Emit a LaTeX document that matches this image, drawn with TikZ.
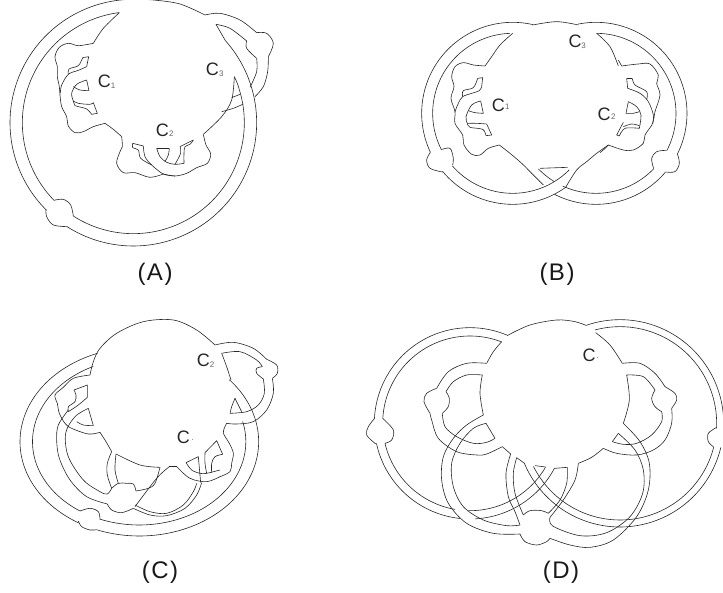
\documentclass[tikz,border=0pt]{standalone}
\usepackage{fontspec}
\setmainfont{Liberation Sans}
\tikzset{
  ln/.style={line width=0.6pt,draw=black!85,line join=round},
  zoomed/.style={x=0.33333pt,y=-0.33333pt},
  lab/.style={inner sep=0pt,text=black!85,font=\fontsize{18}{18}\selectfont},
  sublab/.style={inner sep=0pt,text=black!60,font=\fontsize{8}{8}\selectfont},
  caplab/.style={inner sep=0pt,text=black!90,font=\fontsize{24}{24}\selectfont}
}
\newcommand\cv[1]{\draw[ln] plot[smooth,tension=.55] coordinates {#1};}
\newcommand\ea[6]{\draw[ln] plot[domain=#5:#6,samples=70,smooth] ({#1+#3*cos(\x)},{#2+#4*sin(\x)});}
\begin{document}
\begin{tikzpicture}
\useasboundingbox (0,0) rectangle (723pt,-593pt);
\clip (0,0) rectangle (723pt,-593pt);
%%% A
\begin{scope}[shift={(0pt,0pt)},zoomed]
\ea{400}{368}{333}{333}{262.7}{135.6}
\cv{(162,601)(190,598)(212,615)(220,648)}
\ea{400}{368}{333}{333}{122.7}{-18}
\cv{(717,265)(710,245)(703,230)}
\ea{400}{368}{370}{370}{270}{134.7}
\cv{(138,628)(140,650)(160,675)(203,680)}
\ea{400}{368}{370}{370}{122.4}{-42}
\draw[ln] (675,120)--(648,73);
\cv{(615,45)(540,12)(460,0)(400,-2)}
\cv{(615,45)(660,40)(720,60)(770,98)}
\cv{(770,98)(800,100)(820,130)(805,170)}
\cv{(805,170)(803,215)(790,260)(765,290)}
\cv{(648,73)(690,85)(740,123)}
\cv{(740,123)(740,145)(770,175)}
\cv{(770,175)(770,215)(750,262)}
\cv{(720,283)(695,293)}
\cv{(730,312)(700,325)(665,335)}
\cv{(703,230)(695,300)(665,350)(610,403)}
\cv{(610,403)(618,435)(632,462)(622,490)(590,503)(560,520)(525,528)(490,522)}
\cv{(490,522)(450,532)(405,518)(370,518)(350,490)(360,455)(367,440)(365,410)}
\cv{(365,410)(340,388)(315,370)}
\cv{(315,370)(280,380)(250,395)(225,398)(205,378)(200,350)(185,320)(180,285)(178,260)(172,230)(172,200)(165,170)(178,142)(205,130)(235,137)(280,130)}
\cv{(280,130)(310,85)(358,38)}
% C2 details
\cv{(398,430)(430,438)}
\cv{(398,430)(398,443)(415,450)(422,475)(455,495)}
\cv{(430,438)(435,470)(455,495)(490,522)(525,528)}
\draw[ln] (470,445)--(508,445);
\cv{(508,445)(505,465)(495,485)}
\cv{(470,445)(480,470)(500,487)(525,493)(552,490)}
\cv{(525,493)(542,460)(540,440)}
\draw[ln] (540,440)--(580,420);
\cv{(580,420)(570,433)(555,440)(552,460)(552,490)}
\node[lab] (a2) at (487,390) {C};
\node[sublab] (a2s) at (514,402) {2};
\node[lab] (a1) at (313,245) {C};
\node[sublab] (a1s) at (339,258) {1};
\node[lab] (a3) at (637,208) {C};
\node[sublab] (a3s) at (664,220) {3};
\node[caplab] (acap) at (465,822) {(\kern1.5pt A\kern1.5pt)};
\end{scope}
\begin{scope}[shift={(45pt,-35pt)},zoomed]
\cv{(46,175)(50,150)(70,118)(100,106)(125,95)}
\cv{(125,95)(131,65)}
\draw[ln] (131,65)--(113,68);
\cv{(113,68)(100,92)(72,102)(70,118)}
\cv{(125,135)(95,148)(80,175)(85,198)}
\draw[ln] (125,135)--(132,167);
\cv{(132,167)(105,165)(85,155)}
\cv{(85,198)(100,205)(135,208)(145,203)}
\draw[ln] (145,203)--(157,235)--(140,238);
\cv{(140,238)(125,222)(100,215)(90,212)(85,198)}
\end{scope}
%%% B
\begin{scope}[shift={(400pt,-10pt)},zoomed]
\ea{338}{310}{240}{240}{268}{153}
\cv{(124,419)(150,415)(160,445)(158,465)}
\ea{338}{310}{240}{240}{139}{45}
\draw[ln] (420,475)--(503,472);
\ea{338}{310}{273}{273}{283}{154.7}
\cv{(91,427)(80,450)(90,475)(127,486)}
\ea{338}{310}{273}{273}{140.6}{54.4}
\ea{588}{310}{240}{240}{121.4}{136}
\ea{588}{310}{240}{240}{114.6}{43.8}
\cv{(761,476)(755,445)(770,425)(800,421)}
\ea{588}{310}{240}{240}{27.6}{-89.5}
\cv{(398,45)(470,35)(535,45)}
\ea{588}{310}{273}{273}{258.7}{386.4}
\cv{(832,431)(838,460)(825,485)(797,486)}
\ea{588}{310}{273}{273}{40.3}{117.2}
\cv{(338,70)(300,105)(275,140)(255,168)}
\cv{(255,168)(220,165)(190,158)(165,170)(155,200)(162,230)(153,265)(165,305)(165,340)(188,375)(192,405)(215,433)(240,435)(265,415)(298,405)}
\cv{(298,405)(330,430)(365,460)(395,490)(430,525)}
\cv{(590,70)(630,110)(655,168)}
\cv{(625,405)(590,430)(560,455)(530,480)(497,532)}
\node[lab] (b1) at (295,285) {C};
\node[sublab] (b1s) at (322,291) {1};
\node[lab] (b2) at (612,313) {C};
\node[sublab] (b2s) at (640,320) {2};
\node[lab] (b3) at (525,95) {C};
\node[sublab] (b3s) at (551,108) {3};
\node[caplab] (bcap) at (471,792) {(\kern1.5pt B\kern1.5pt)};
\end{scope}
\begin{scope}[shift={(440pt,-60pt)},zoomed]
\cv{(45,155)(55,130)(68,110)(95,100)(118,92)(125,80)}
\draw[ln] (125,80)--(128,53)--(113,55);
\cv{(113,55)(100,83)(70,92)(68,110)}
\draw[ln] (122,123)--(130,160);
\cv{(130,160)(105,158)(85,152)}
\cv{(122,123)(95,135)(78,170)(82,190)}
\cv{(82,190)(110,190)(140,192)}
\draw[ln] (140,192)--(155,225)--(138,227);
\cv{(138,227)(128,208)(90,202)(82,190)}
\end{scope}
\begin{scope}[shift={(600pt,-60pt)},zoomed]
\cv{(55,0)(65,18)}
\cv{(65,18)(115,12)(150,12)(175,45)(170,70)(180,105)(165,155)(158,190)(135,225)(130,250)(100,270)(70,270)(25,255)}
\cv{(25,255)(12,268)(0,278)}
\draw[ln] (80,55)--(97,55);
\cv{(97,55)(105,75)(140,95)(140,118)}
\cv{(80,55)(83,85)}
\cv{(83,85)(120,100)(145,125)(160,165)(158,190)}
\draw[ln] (85,125)--(78,160);
\cv{(78,160)(100,160)(118,155)}
\cv{(85,125)(110,140)(123,165)(118,205)}
\draw[ln] (70,187)--(50,225)--(58,228);
\cv{(58,228)(75,205)(118,205)}
\cv{(70,200)(95,192)(118,197)}
\end{scope}
%%% C
\begin{scope}[shift={(0pt,-310pt)},zoomed]
\cv{(270,195)(280,155)(300,115)(350,70)(430,35)(520,30)(590,60)(645,105)}
\cv{(645,105)(700,97)(760,115)(800,148)}
\cv{(800,148)(830,165)(832,190)(817,205)}
\cv{(817,205)(820,250)(800,300)(760,335)(710,342)(680,340)}
\cv{(665,130)(720,125)(770,150)(787,170)}
\cv{(787,170)(770,175)(770,190)(790,207)}
\cv{(790,207)(793,250)(775,285)(740,305)(690,310)}
\cv{(690,310)(695,290)(705,265)}
\draw[ln] (705,265)--(725,305);
\cv{(665,130)(680,170)(693,210)}
\ea{418}{395}{358}{283}{-41}{110.9}
\cv{(290,659)(270,660)(245,650)(235,633)}
\ea{418}{395}{358}{283}{120.7}{249.5}
\ea{417.5}{395}{320}{250}{-14}{111.5}
\cv{(300,628)(295,605)(270,595)(240,603)}
\ea{417.5}{395}{320}{250}{123.6}{244.5}
\cv{(680,340)(670,368)(688,400)(700,430)(695,460)(690,485)(660,500)}
\cv{(660,500)(620,515)(570,505)(530,470)}
\draw[ln] (530,470)--(522,470)--(508,470);
\cv{(508,470)(470,505)(405,590)}
\cv{(405,585)(450,605)(500,610)(550,585)(580,545)(590,520)}
\cv{(400,595)(450,615)(500,617)(555,595)(590,555)(605,518)}
\cv{(558,458)(575,480)(600,490)(620,490)(660,480)}
\draw[ln] (558,458)--(595,440)--(602,518);
\cv{(615,428)(615,460)(620,490)}
\draw[ln] (615,428)--(650,392)--(668,433);
\cv{(668,433)(645,440)(635,460)(635,488)}
\cv{(270,195)(220,205)(190,232)(165,255)(172,280)(178,310)(195,340)(215,355)(265,372)(300,367)}
\cv{(300,367)(318,395)(335,425)}
\cv{(335,425)(322,460)(322,495)(335,535)}
\cv{(335,535)(355,520)(380,520)(400,522)(408,543)}
\cv{(408,543)(445,535)(465,520)(480,472)}
\cv{(480,472)(420,465)(348,432)}
\cv{(348,432)(345,480)(355,520)}
\cv{(205,305)(235,285)(262,262)}
\draw[ln] (262,262)--(262,225)--(222,240);
\cv{(222,240)(228,255)(225,275)(205,290)(205,305)}
\cv{(205,300)(175,345)(170,390)(178,445)(210,510)(260,560)(322,582)}
\cv{(322,582)(335,600)(365,608)(400,595)}
\cv{(265,295)(225,320)(197,370)(205,440)(250,510)(300,545)(322,552)(335,535)}
\draw[ln] (265,295)--(280,347);
\cv{(280,347)(250,345)(230,335)}
\node[lab] (c1) at (610,150) {C};
\node[sublab] (c1s) at (636,163) {2};
\node[lab] (c2) at (550,382) {C};
\node[sublab] (c2s) at (578,391) {.};
\node[caplab] (ccap) at (480,787) {(\kern1.5pt C\kern1.5pt)};
\end{scope}
%%% D
\begin{scope}[shift={(360pt,-310pt)},zoomed]
\cv{(445,75)(510,45)(590,30)(645,35)(680,47)}
\ea{330}{340}{287}{287}{293.5}{183}
\cv{(44,325)(25,350)(20,375)(45,400)(49,400)}
\ea{330}{340}{287}{287}{167.7}{96}
\ea{330}{340}{287}{287}{87}{27.9}
\ea{330}{340}{262}{262}{291.2}{183.3}
\cv{(68,325)(100,360)(95,390)(75,400)}
\ea{330}{340}{262}{262}{166.8}{99.8}
\ea{330}{340}{262}{262}{91}{30.2}
\draw[ln] (557,471)--(525,467);
\ea{780}{340}{290}{290}{153.5}{14}
\cv{(1060,410)(1045,395)(1045,370)(1070,352)}
\ea{780}{340}{290}{290}{3}{-105}
\ea{780}{340}{311}{311}{-108.8}{-2}
\ea{780}{340}{311}{311}{13.5}{157.5}
\draw[ln] (492,459)--(470,443);
\cv{(470,443)(460,490)(465,550)(490,615)}
\cv{(490,615)(510,602)(545,602)(565,610)}
\cv{(565,610)(600,570)(620,520)(622,472)}
\draw[ln] (622,472)--(585,475);
\cv{(425,95)(400,125)(380,160)}
\cv{(380,160)(320,160)(265,185)(230,235)}
\cv{(230,235)(200,250)(192,275)(210,310)}
\cv{(210,310)(215,330)(235,385)(290,425)(350,435)(380,432)(427,410)}
\draw[ln] (427,410)--(452,432);
\cv{(452,432)(438,490)(445,560)(465,605)(480,645)}
\cv{(367,195)(320,195)(280,215)(258,245)}
\cv{(258,245)(268,265)(265,290)(247,310)}
\cv{(247,310)(255,350)(290,380)(340,400)(380,397)(405,385)}
\cv{(367,195)(360,250)(370,315)}
\draw[ln] (378,340)--(405,385);
\cv{(370,315)(320,345)(280,385)(250,440)(245,510)(265,580)(320,640)(400,670)(480,672)}
\cv{(378,340)(340,355)(300,400)(275,460)(280,530)(310,590)(370,630)(440,647)(480,645)}
\cv{(480,672)(495,695)(530,705)(560,695)(570,685)}
\cv{(570,685)(630,705)(690,712)(760,690)(830,620)(865,540)(868,460)(840,395)(790,340)}
\cv{(570,622)(578,648)(660,677)(740,668)(810,620)(848,550)(850,480)(825,420)(775,370)}
\draw[ln] (775,370)--(757,395);
\cv{(757,395)(790,403)(830,400)(875,375)(905,335)(905,305)}
\cv{(905,305)(885,290)(875,265)(885,240)}
\cv{(885,240)(850,200)(800,195)}
\cv{(800,195)(808,270)(790,340)}
\cv{(707,68)(750,105)(787,160)}
\cv{(787,160)(840,160)(885,190)(915,230)}
\cv{(915,230)(945,250)(950,270)(935,295)}
\cv{(935,295)(935,340)(915,390)(880,420)(830,435)(770,430)(730,415)}
\cv{(730,415)(695,442)(655,460)}
\cv{(655,460)(645,510)(610,570)(570,622)}
\node[lab] (d1) at (687,135) {C};
\node[sublab] (d1s) at (713,145) {.};
\node[caplab] (dcap) at (603,787) {(\kern1.5pt D\kern1.5pt)};
\end{scope}
\end{tikzpicture}
\end{document}
